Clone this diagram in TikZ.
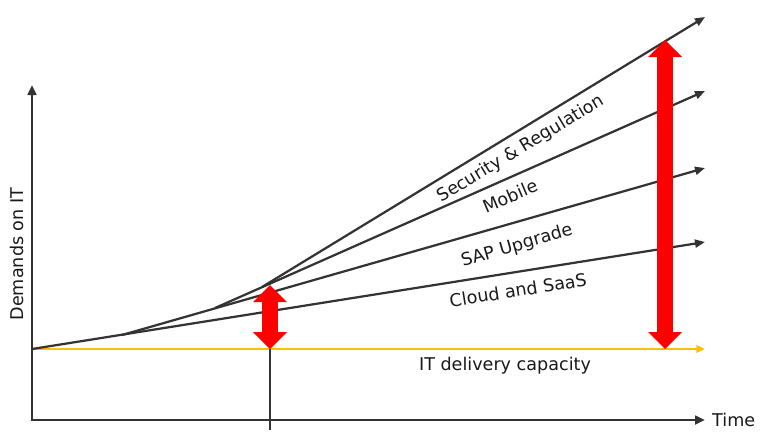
\documentclass[tikz,border=0pt]{standalone}
\usepackage{fontspec}
\setmainfont{DejaVu Sans}
\usetikzlibrary{arrows.meta}
\definecolor{linegray}{HTML}{333333}
\definecolor{capyellow}{HTML}{FFC000}
\tikzset{
  trend/.style={draw=linegray, line width=1.9pt, -{Triangle[length=0.3cm,width=0.24cm]}},
  axisline/.style={draw=linegray, line width=2.5pt, {Triangle[length=0.3cm,width=0.26cm]}-{Triangle[length=0.3cm,width=0.26cm]}},
  capline/.style={draw=capyellow, line width=1.9pt, -{Triangle[length=0.26cm,width=0.22cm]}},
  gaparrow/.style={draw=red, line width=0.48cm, {Triangle[length=0.51cm,width=1.02cm,line width=0pt]}-{Triangle[length=0.51cm,width=1.02cm,line width=0pt]}},
  lbl/.style={font=\fontsize{15}{18}\selectfont, inner sep=0pt, text=black!90}
}

\begin{document}
\begin{tikzpicture}[x=0.03cm, y=-0.03cm]
        \useasboundingbox (0,0) rectangle (768,439);

        % axes
        \coordinate (ytop) at (32,85);
        \coordinate (corner) at (32,420);
        \coordinate (xend) at (705,420);
        \draw[axisline] (ytop) -- (corner) -- (xend);
        \node[lbl, rotate=90] (demands) at (17,254) {Demands on IT};
        \node[lbl, anchor=west] (time) at (712,420) {Time};

        % capacity
        \coordinate (o) at (32,349);
        \coordinate (capend) at (705,349);
        \draw[capline] (o) -- (capend);
        \node[lbl] (capacity) at (505,366) {IT delivery capacity};

        % demand lines
        \coordinate (b1) at (122,335);
        \coordinate (b2) at (215,308);
        \coordinate (b3) at (262,287);
        \coordinate (cloudend) at (705,242);
        \coordinate (sapend) at (705,168);
        \coordinate (mobileend) at (705,91);
        \coordinate (secend) at (705,17);
        \draw[trend] (o) -- (cloudend);
        \draw[trend] (b1) -- (sapend);
        \draw[trend] (b2) -- (mobileend);
        \draw[trend] (b3) -- (secend);

        \node[lbl, rotate=31] (security) at (521,149) {Security \& Regulation};
        \node[lbl, rotate=23] (mobile) at (510,196) {Mobile};
        \node[lbl, rotate=16] (sap) at (517,246) {SAP Upgrade};
        \node[lbl, rotate=9] (cloud) at (518,290) {Cloud and SaaS};

        % now marker
        \coordinate (nowtop) at (270,285);
        \coordinate (nowbot) at (270,349);
        \coordinate (nowend) at (270,430);
        \draw[linegray, line width=1.9pt] (nowbot) -- (nowend);

        % gaps
        \coordinate (gaptop) at (665,40);
        \coordinate (gapbot) at (665,349);
        \draw[gaparrow] (nowtop) -- (nowbot);
        \draw[gaparrow] (gaptop) -- (gapbot);
\end{tikzpicture}
\end{document}
